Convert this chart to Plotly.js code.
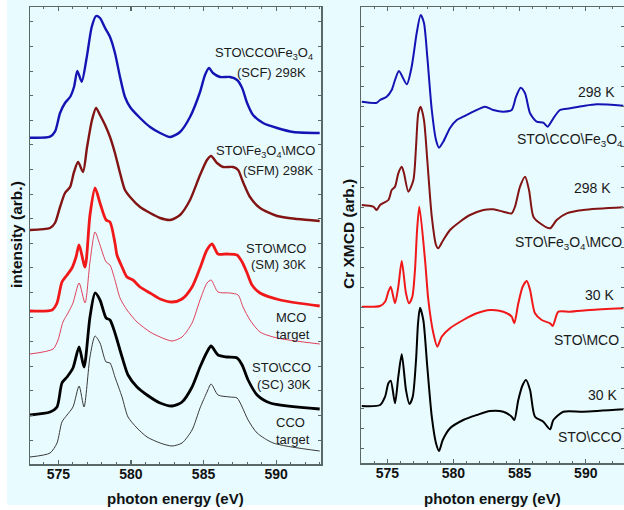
<!DOCTYPE html>
<html>
<head>
<meta charset="utf-8">
<script src="https://cdn.plot.ly/plotly-3.0.1.min.js"></script>
<style>
  html, body { margin: 0; padding: 0; background: #ffffff; }
  #wrap { position: relative; width: 624px; height: 510px; overflow: hidden; }
  #bg { position: absolute; left: 7px; top: 0; width: 617px; height: 505px; background: #e8fbff; }
  #chart { position: absolute; left: 0; top: 0; width: 624px; height: 510px; }
</style>
</head>
<body>
<div id="wrap"><div id="bg"></div><div id="chart"></div></div>
<script>
// ---- Cr L2,3 XAS (left panel), stacked, arbitrary units ----
const energySCF = [573.05, 574.43, 574.77, 575.12, 575.46, 575.81, 576.08, 576.31, 576.61, 576.96, 577.3, 577.6, 577.87, 578.22, 578.56, 578.9, 579.25, 579.59, 579.94, 580.63, 581.32, 582.01, 582.7, 583.38, 584.07, 584.76, 585.1, 585.38, 585.65, 586.14, 586.83, 587.31, 587.66, 588.0, 588.41, 589.1, 590.07, 591.18, 593.0];
const xasSCF    = [326.3, 327.3, 332.3, 351, 361, 367, 377, 393, 382.3, 407, 437, 448, 446, 436, 427, 411, 387, 367, 357, 346, 337, 331, 327, 332, 347, 372, 389, 396, 391, 387, 387, 384, 376, 361, 349, 341, 336, 332, 331];

const energySFM = [573.05, 574.43, 574.77, 575.12, 575.46, 575.81, 576.08, 576.36, 576.7, 576.98, 577.32, 577.6, 577.87, 578.22, 578.56, 578.9, 579.25, 579.59, 579.94, 580.63, 581.32, 582.01, 582.7, 583.38, 584.07, 584.76, 585.24, 585.52, 585.93, 586.35, 587.04, 587.38, 587.72, 588.2, 588.89, 590.07, 591.45, 593.0];
const xasSFM    = [234, 236, 241, 257, 271, 277, 292, 302, 292, 317, 344, 356, 349, 339, 327, 311, 291, 274, 267, 257, 251, 246, 244, 249, 264, 289, 304, 308, 301, 297, 297, 294, 282, 267, 256, 248, 245, 243];

const energySM = [573.05, 574.57, 574.91, 575.25, 575.6, 575.94, 576.22, 576.43, 576.84, 577.18, 577.53, 577.87, 578.29, 578.56, 578.9, 579.04, 579.39, 579.73, 580.14, 580.63, 581.32, 582.01, 582.83, 583.52, 584.21, 584.76, 585.23, 585.59, 586.0, 586.62, 587.31, 587.66, 588.0, 588.34, 588.89, 590.28, 593.0];
const xasSM    = [153, 154, 161, 182, 189, 196, 207, 219, 197, 249, 276, 261, 244, 242, 221, 209, 197, 187, 184, 177, 171, 165, 162, 165, 177, 196, 214, 220, 210, 210, 209, 202, 191, 179, 171, 164, 158];

const energyMCO = [573.05, 574.64, 574.98, 575.32, 575.67, 576.01, 576.43, 576.84, 577.18, 577.53, 577.87, 578.29, 578.56, 578.9, 579.25, 579.73, 580.42, 581.32, 582.01, 582.83, 583.52, 584.21, 584.76, 585.24, 585.52, 586.0, 586.83, 587.38, 587.72, 588.2, 588.89, 590.07, 593.0];
const xasMCO    = [110, 115, 124, 142, 151, 161, 181, 161, 202, 232, 219, 202, 199, 184, 166, 154, 142, 132, 127, 123, 127, 141, 164, 181, 184, 172, 171, 169, 157, 144, 132, 126, 120];

const energySC = [573.05, 574.43, 574.91, 575.25, 575.6, 576.01, 576.43, 576.77, 577.18, 577.53, 577.87, 578.29, 578.56, 578.9, 579.39, 579.8, 580.42, 581.11, 582.01, 582.83, 583.52, 584.21, 584.76, 585.24, 585.52, 586.0, 586.62, 587.31, 587.66, 588.07, 588.69, 589.59, 593.0];
const xasSC    = [49, 52, 57, 81, 87, 96, 117, 97, 147, 171, 164, 146, 144, 131, 107, 89, 77, 69, 61, 58, 62, 77, 97, 112, 118, 109, 107, 106, 99, 84, 69, 61, 55];

const energyCCO = [573.05, 574.43, 574.91, 575.25, 575.6, 576.01, 576.43, 576.77, 577.18, 577.53, 577.87, 578.29, 578.56, 578.9, 579.39, 579.8, 580.42, 581.11, 582.01, 582.83, 583.52, 584.21, 584.76, 585.24, 585.52, 586.0, 586.83, 587.31, 587.66, 588.07, 588.69, 589.8, 593.0];
const xasCCO    = [7, 11, 21, 42, 49, 57, 78, 57, 107, 128, 121, 102, 101, 87, 67, 47, 36, 27, 21, 18, 21, 34, 56, 72, 80, 69, 67, 66, 57, 44, 31, 21, 13];

// ---- Cr XMCD (right panel), stacked, arbitrary units ----
const energyXmcdSCF = [573.07, 574.2, 574.45, 574.95, 575.33, 575.58, 575.88, 576.47, 576.84, 577.22, 577.52, 577.77, 578.02, 578.36, 578.68, 578.91, 579.23, 579.74, 580.25, 580.74, 581.5, 582.38, 583.01, 583.77, 584.4, 584.73, 585.08, 585.41, 585.79, 586.29, 586.79, 587.12, 587.55, 588.05, 588.81, 589.81, 590.83, 592.84];
const xmcdSCF       = [361.3, 360.3, 363, 366.3, 373, 383, 392, 378.7, 396.3, 430, 448, 440, 406.3, 353, 323, 315.3, 321.3, 335, 343, 346.3, 351.3, 356.3, 353, 351.3, 353, 366.3, 375.3, 369.7, 349.7, 341.3, 340.3, 336.3, 344.7, 353, 354.7, 357, 358.7, 357.3];

const energyXmcdSFM = [573.07, 573.94, 574.2, 574.45, 575.08, 575.33, 575.58, 575.83, 576.09, 576.26, 576.59, 576.97, 577.17, 577.34, 577.52, 577.77, 578.02, 578.36, 578.68, 578.85, 579.23, 579.74, 580.49, 581.25, 582.26, 583.01, 583.77, 584.4, 584.65, 585.03, 585.41, 585.71, 586.04, 586.54, 587.3, 587.8, 588.56, 589.81, 592.84];
const xmcdSFM       = [258, 256.3, 253, 258, 263, 273, 276.3, 289.7, 296.3, 289.7, 271.3, 283, 316.3, 349.7, 356.3, 343, 303, 246.3, 218, 214.7, 223, 233, 241.3, 248, 253, 253.7, 251.3, 249.7, 256.3, 276.3, 286.3, 273, 246.3, 239.7, 234.7, 243, 249.7, 253, 255.7];

const energyXmcdSM = [573.07, 574.45, 574.83, 575.08, 575.26, 575.58, 575.83, 576.09, 576.41, 576.64, 576.89, 577.09, 577.25, 577.42, 577.85, 578.1, 578.48, 578.78, 579.11, 579.74, 580.74, 581.76, 582.76, 583.77, 584.4, 584.6, 584.9, 585.23, 585.54, 585.79, 586.16, 586.67, 587.3, 587.5, 587.93, 588.81, 590.32, 592.84];
const xmcdSM       = [156.3, 157, 161.3, 171.3, 176.3, 159.7, 176.3, 202, 169.7, 159.7, 166.3, 193, 233, 256.3, 203, 163, 129.7, 116.3, 126.3, 134.7, 143, 149.7, 153, 151.3, 146.3, 139.7, 159.7, 176.3, 182, 173, 149.7, 143, 139.7, 137, 151.3, 151.3, 153, 154.7];

const energyXmcdSC = [573.07, 574.45, 574.83, 575.08, 575.26, 575.58, 575.83, 576.09, 576.41, 576.67, 576.92, 577.17, 577.32, 577.47, 577.72, 578.02, 578.36, 578.68, 578.91, 579.19, 579.74, 580.74, 581.76, 582.76, 583.77, 584.4, 584.6, 584.9, 585.23, 585.48, 585.79, 586.16, 586.79, 587.3, 587.55, 588.3, 589.81, 592.84];
const xmcdSC       = [57, 58, 66.3, 79.7, 82.3, 59.7, 86.3, 108.7, 73, 59, 66.3, 103, 139.7, 155.3, 143, 96.3, 46.3, 19.7, 12, 23, 34.7, 43, 48, 52, 51.3, 46.3, 43, 63, 78, 83, 73, 46.3, 41.3, 33.7, 43, 51.3, 51.3, 53.7];

// Sample labels: [text, x px, y px]
const xasLabels = [
  ["STO\\CCO\\Fe<sub>3</sub>O<sub>4</sub>", 315, 54], ["(SCF) 298K", 308, 73],
  ["STO\\Fe<sub>3</sub>O<sub>4</sub>\\MCO", 317, 151], ["(SFM) 298K", 315, 171],
  ["STO\\MCO", 308, 248], ["(SM) 30K", 308, 264],
  ["MCO", 308, 317], ["target", 312, 334],
  ["STO\\CCO", 313, 367], ["(SC) 30K", 313, 384],
  ["CCO", 307, 422], ["target", 312, 439]
];
const xmcdTemps = [["298 K", 596, 92], ["298 K", 592, 188], ["30 K", 599, 295], ["30 K", 602, 395]];
const xmcdNames = [
  ["STO\\CCO\\Fe<sub>3</sub>O<sub>4</sub>", 515, 140],
  ["STO\\Fe<sub>3</sub>O<sub>4</sub>\\MCO", 513, 243],
  ["STO\\MCO", 552, 340],
  ["STO\\CCO", 556, 437]
];

const W = 624, H = 510;
const px = v => v / W;
const py = v => 1 - v / H;
const FONT = "Liberation Sans, Arial, Helvetica, sans-serif";
const AXIS = "#5b6868";

function line(x, y, color, width, xa, ya) {
  return { x: x, y: y, xaxis: xa, yaxis: ya, type: "scatter", mode: "lines",
           line: { color: color, width: width, shape: "spline", smoothing: 0.7 },
           hoverinfo: "skip" };
}

const traces = [
  line(energySCF, xasSCF, "#1414b4", 2.4, "x", "y"),
  line(energySFM, xasSFM, "#821414", 2.4, "x", "y"),
  line(energySM, xasSM, "#f01818", 2.8, "x", "y"),
  line(energyMCO, xasMCO, "#e0405a", 1.0, "x", "y"),
  line(energySC, xasSC, "#000000", 2.8, "x", "y"),
  line(energyCCO, xasCCO, "#3a3a3a", 1.0, "x", "y"),
  line(energyXmcdSCF, xmcdSCF, "#1414b4", 2.0, "x2", "y2"),
  line(energyXmcdSFM, xmcdSFM, "#821414", 2.0, "x2", "y2"),
  line(energyXmcdSM, xmcdSM, "#f01818", 2.0, "x2", "y2"),
  line(energyXmcdSC, xmcdSC, "#000000", 2.0, "x2", "y2")
];

function xAxis(domain, range, anchor) {
  return {
    domain: domain, range: range, anchor: anchor,
    showline: true, linecolor: AXIS, linewidth: 1.5, mirror: "ticks",
    ticks: "inside", ticklen: 4, tickwidth: 1.2, tickcolor: AXIS,
    tick0: 575, dtick: 5, ticklabelstandoff: -3,
    minor: { dtick: 1, ticks: "inside", ticklen: 2, tickwidth: 1, tickcolor: AXIS },
    tickfont: { family: FONT, size: 14, color: "#111111", weight: "bold" },
    showgrid: false, zeroline: false, fixedrange: true
  };
}
function yAxis(domain, range, anchor, tick0, dtick) {
  return {
    domain: domain, range: range, anchor: anchor,
    showline: true, linecolor: AXIS, linewidth: 1.5, mirror: "ticks",
    ticks: "inside", ticklen: 3, tickwidth: 1, tickcolor: AXIS,
    tick0: tick0, dtick: dtick, showticklabels: false,
    showgrid: false, zeroline: false, fixedrange: true
  };
}

const annotations = [];
xasLabels.forEach(([t, x, y]) => annotations.push({
  text: t, xref: "paper", yref: "paper", x: px(x), y: py(y),
  xanchor: "right", yanchor: "middle", showarrow: false,
  font: { family: FONT, size: 13, color: "#1a1a1a" }
}));
xmcdTemps.forEach(([t, x, y]) => annotations.push({
  text: t, xref: "paper", yref: "paper", x: px(x), y: py(y),
  xanchor: "center", yanchor: "middle", showarrow: false,
  font: { family: FONT, size: 14, color: "#1a1a1a" }
}));
xmcdNames.forEach(([t, x, y]) => annotations.push({
  text: t, xref: "paper", yref: "paper", x: px(x), y: py(y),
  xanchor: "left", yanchor: "middle", showarrow: false,
  font: { family: FONT, size: 14, color: "#1a1a1a" }
}));
// Axis titles
const titleFont = { family: FONT, size: 15, color: "#111111", weight: "bold" };
annotations.push({ text: "photon energy (eV)", xref: "paper", yref: "paper", x: px(175.5), y: py(498),
  xanchor: "center", yanchor: "middle", showarrow: false, font: titleFont });
annotations.push({ text: "photon energy (eV)", xref: "paper", yref: "paper", x: px(492.5), y: py(498),
  xanchor: "center", yanchor: "middle", showarrow: false, font: titleFont });
annotations.push({ text: "intensity (arb.)", xref: "paper", yref: "paper", x: px(17), y: py(235),
  xanchor: "center", yanchor: "middle", textangle: -90, showarrow: false,
  font: Object.assign({}, titleFont, { size: 15.5 }) });
annotations.push({ text: "Cr XMCD (arb.)", xref: "paper", yref: "paper", x: px(349), y: py(234),
  xanchor: "center", yanchor: "middle", textangle: -90, showarrow: false,
  font: Object.assign({}, titleFont, { size: 15.5 }) });

const layout = {
  width: W, height: H,
  margin: { l: 0, r: 0, t: 0, b: 0 },
  paper_bgcolor: "rgba(0,0,0,0)",
  plot_bgcolor: "#e8fbff",
  showlegend: false,
  xaxis: xAxis([px(30), px(321)], [573.05, 593.09], "y"),
  yaxis: yAxis([py(464), py(7)], [0, 457], "x", 24, 24.6),
  xaxis2: xAxis([px(361), 1], [573.01, 592.89], "y2"),
  yaxis2: yAxis([py(463), py(7)], [0, 456], "x2", 14.7, 20.1),
  annotations: annotations
};

Plotly.newPlot("chart", traces, layout, { displayModeBar: false, staticPlot: true });
</script>
</body>
</html>
